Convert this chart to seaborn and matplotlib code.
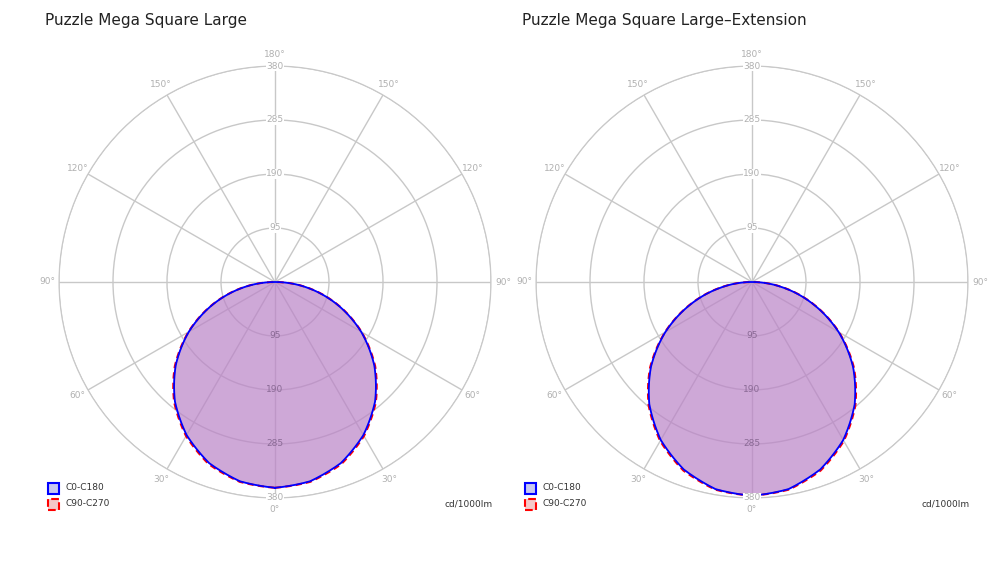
import numpy as np
import matplotlib
matplotlib.use("Agg")
import matplotlib.pyplot as plt
import seaborn as sns
from matplotlib.patches import Rectangle

sns.set_style("white")
plt.rcParams['font.family'] = ['DejaVu Sans']

titles = ["Puzzle Mega Square Large", "Puzzle Mega Square Large–Extension"]
angles_deg = [0, 10, 20, 30, 40, 50, 60, 70, 80, 90]
c0_left = [362, 356, 339, 311, 274, 228, 175, 117, 58, 0]
c90_left = [362, 357, 341, 313, 276, 230, 176, 118, 59, 0]
c0_right = [376, 370, 351, 321, 281, 232, 176, 115, 55, 0]
c90_right = [376, 371, 353, 323, 283, 234, 177, 116, 56, 0]
r_ticks = [95, 190, 285, 380]
legend_labels = ["C0-C180", "C90-C270"]
unit = "cd/1000lm"

fig = plt.figure(figsize=(10.04, 5.66), dpi=100)
W, H = 1004, 566
centers = [275, 752]
R = 216
grey = "#b0b0b0"

def full_curve(vals):
    a = np.array(angles_deg, float)
    v = np.array(vals, float)
    fine = np.linspace(0, 90, 181)
    vf = np.interp(fine, a, v)  # rendering only: smooth the drawn outline
    th = np.concatenate([fine, 360 - fine[::-1]])
    rr = np.concatenate([vf, vf[::-1]])
    return np.deg2rad(th), rr

for i, cx in enumerate(centers):
    ax = fig.add_axes([(cx - R) / W, (H - 282 - R) / H, 2 * R / W, 2 * R / H], projection="polar")
    ax.set_theta_zero_location("S")
    ax.set_ylim(0, 380)
    c0 = c0_left if i == 0 else c0_right
    c90 = c90_left if i == 0 else c90_right
    th, rr = full_curve(c0)
    th2, rr2 = full_curve(c90)
    ax.fill(th, rr, color="#ba83c7", alpha=0.7, zorder=3)
    ax.plot(th2, rr2, color="red", lw=1.5, ls=(0, (3, 2)), zorder=4)
    ax.plot(th, rr, color="blue", lw=1.3, zorder=5)
    ax.set_thetagrids(range(0, 360, 30), labels=[""] * 12)
    ax.set_rgrids(r_ticks, labels=[""] * 4)
    ax.grid(color="#c8c8c8", lw=1)
    ax.spines["polar"].set_color("#c8c8c8")
    ax.set_facecolor("none")
    for a in range(0, 360, 30):
        lab = f"{min(a, 360 - a)}°"
        ax.text(np.deg2rad(a), 401, lab, ha="center", va="center", fontsize=6.5, color=grey)
    for r in r_ticks:
        ax.text(np.pi, r, str(r), ha="center", va="center", fontsize=6.5, color=grey,
                bbox=dict(fc="white", ec="none", pad=0.5), zorder=6)
        if r == 380:
            ax.text(0, r, str(r), ha="center", va="center", fontsize=6.5, color=grey,
                    bbox=dict(fc="white", ec="none", pad=0.5), zorder=6)
        else:
            ax.text(0, r, str(r), ha="center", va="center", fontsize=6.5, color="#8a6a95", zorder=6)
    fig.text((cx - 230) / W, 1 - 20 / H, titles[i], fontsize=11, va="center", color="#222222")
    lx = (cx - 227) / W
    fig.patches.append(Rectangle((lx, 1 - 494 / H), 11 / W, 11 / H, transform=fig.transFigure,
                                 fc="#c8c8f0", ec="blue", lw=1.5))
    fig.patches.append(Rectangle((lx, 1 - 510 / H), 11 / W, 11 / H, transform=fig.transFigure,
                                 fc="#f5c8c8", ec="red", lw=1.5, ls="--"))
    fig.text(lx + 18 / W, 1 - 488 / H, legend_labels[0], fontsize=6.5, va="center", color="#333333")
    fig.text(lx + 18 / W, 1 - 504 / H, legend_labels[1], fontsize=6.5, va="center", color="#333333")
    fig.text((cx + 218) / W, 1 - 504 / H, unit, fontsize=6.5, va="center", ha="right", color="#333333")

fig.savefig("out.png", dpi=100)
